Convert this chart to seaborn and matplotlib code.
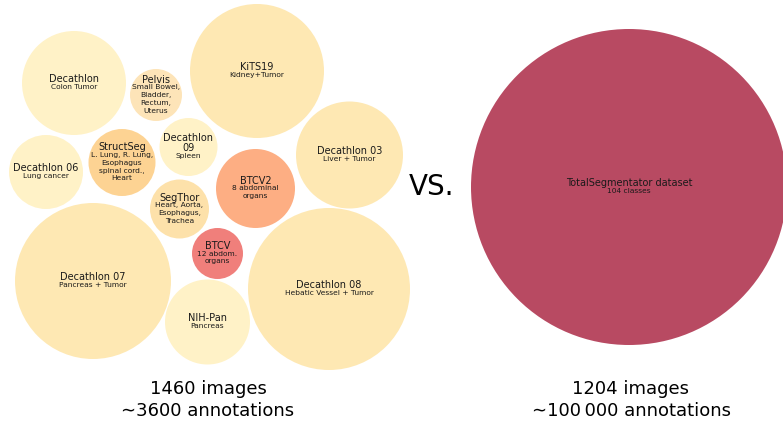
import matplotlib
matplotlib.use("Agg")
import matplotlib.pyplot as plt
import seaborn as sns
import pandas as pd

# Datasets shown as bubbles (layout, in pixels)
names = ["Decathlon", "Pelvis", "KiTS19", "Decathlon\n09", "Decathlon 06",
         "StructSeg", "Decathlon 03", "BTCV2", "SegThor", "BTCV",
         "NIH-Pan", "Decathlon 08", "Decathlon 07", "TotalSegmentator dataset"]
details = ["Colon Tumor", "Small Bowel,\nBladder,\nRectum,\nUterus", "Kidney+Tumor",
           "Spleen", "Lung cancer", "L. Lung, R. Lung,\nEsophagus\nspinal cord.,\nHeart",
           "Liver + Tumor", "8 abdominal\norgans", "Heart, Aorta,\nEsophagus,\nTrachea",
           "12 abdom.\norgans", "Pancreas", "Hebatic Vessel + Tumor",
           "Pancreas + Tumor", "104 classes"]
center_x = [74, 156, 257, 188.5, 46, 122, 349.5, 255.5, 179.5, 217.5, 207.5, 329, 93, 629]
center_y = [83, 95, 71, 147, 172, 162.5, 155, 188.5, 209, 253.5, 322, 289, 281, 187]
radius = [52, 26, 67, 29, 37, 33.5, 53.5, 39.5, 29.5, 25.5, 42.5, 81, 78, 158]

captions = ["1460 images\n\u223c3600 annotations", "1204 images\n\u223c100\u2009000 annotations"]
caption_x = [208, 631]

colors = ["#fff2c7", "#fde4b8", "#fee8b3", "#fff2c7", "#fff2c7", "#fdd393",
          "#fee8b3", "#fdae83", "#fde1aa", "#f07f7b", "#fff2c7", "#fee8b3",
          "#fee8b3", "#b84a62"]

W, H, DPI = 783, 423, 100

sns.set_theme(style="white")
plt.rcParams['font.family'] = ['DejaVu Sans']

df = pd.DataFrame({"name": names, "x": center_x, "y": center_y, "r": radius})
# marker area in points^2 so that the marker radius equals r pixels
df["s"] = (2 * df["r"] * 72 / DPI) ** 2

fig = plt.figure(figsize=(W / DPI, H / DPI), dpi=DPI)
ax = fig.add_axes([0, 0, 1, 1])
sns.scatterplot(data=df, x="x", y="y", hue="name", palette=dict(zip(names, colors)),
                s=df["s"].values, linewidth=0, legend=False, ax=ax)
ax.set_xlim(0, W)
ax.set_ylim(H, 0)
ax.axis("off")

# labels centred in each bubble
for name, det, cx, cy in zip(names, details, center_x, center_y):
    n_name = name.count("\n") + 1
    n_det = det.count("\n") + 1
    h_name = 10 * n_name - 1
    total = h_name + 7.5 * n_det
    top = cy - total / 2
    ax.text(cx, top + h_name / 2, name, ha="center", va="center", fontsize=7,
            color="#1a1a1a", linespacing=0.95)
    ax.text(cx, top + h_name, det, ha="center", va="top", fontsize=5.4,
            color="#1a1a1a", linespacing=1.35)

ax.text(432, 187, "VS.", ha="center", va="center", fontsize=20, color="black")

for cap, cx in zip(captions, caption_x):
    ax.text(cx, 400, cap, ha="center", va="center", fontsize=13, color="black",
            linespacing=1.3)

fig.savefig("out.png", dpi=DPI)
